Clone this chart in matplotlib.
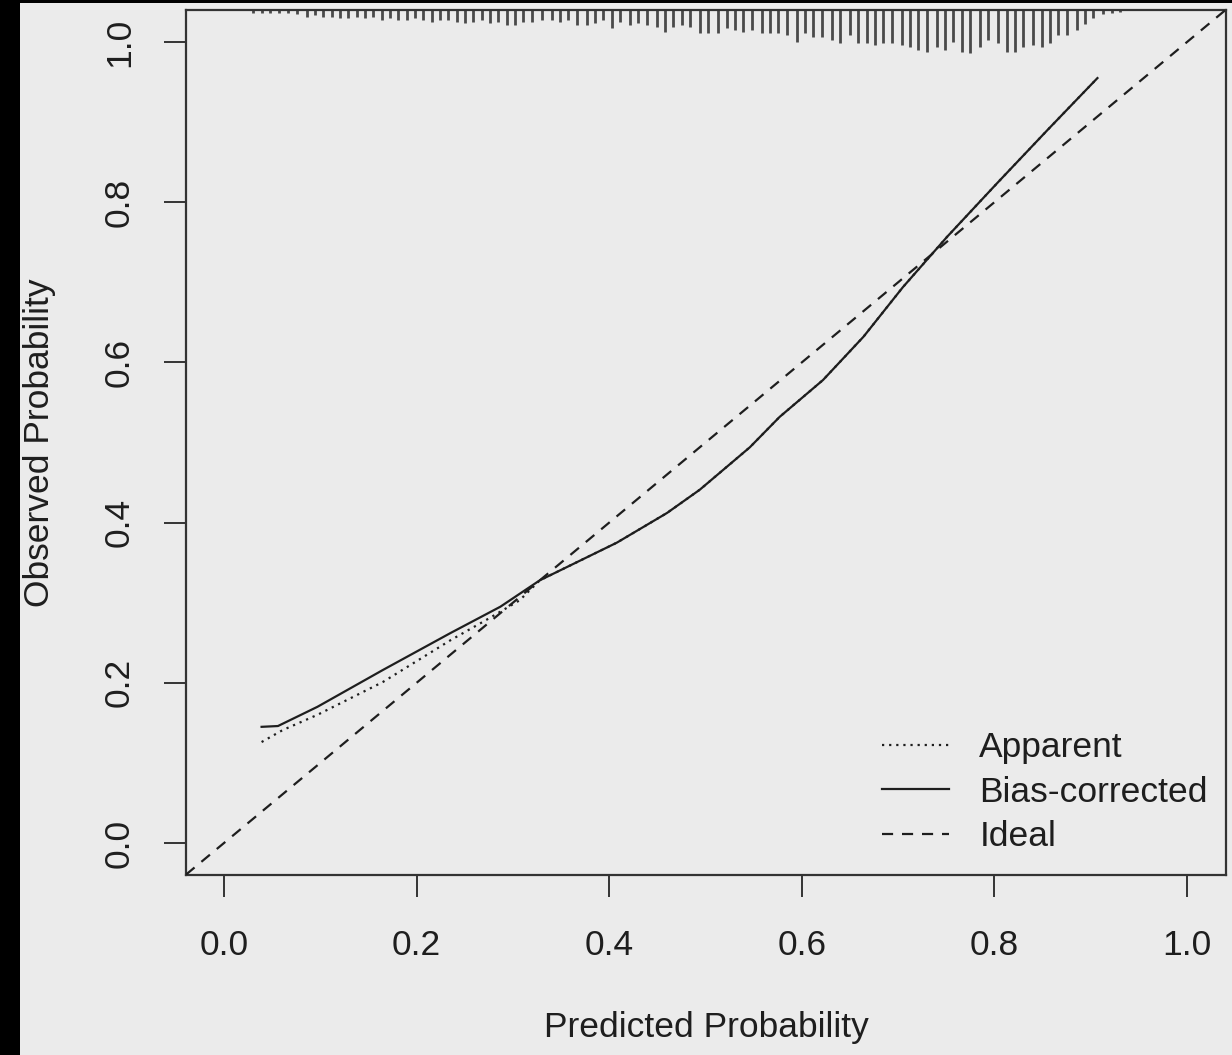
import matplotlib
matplotlib.use("Agg")
import matplotlib.pyplot as plt
from matplotlib.patches import Rectangle
from matplotlib.lines import Line2D

plt.rcParams['font.family'] = ['Liberation Sans', 'DejaVu Sans']

# ---- data ----
pred_bias = [0.039, 0.056, 0.097, 0.165, 0.235, 0.287, 0.328, 0.408, 0.460, 0.494,
             0.546, 0.577, 0.622, 0.664, 0.705, 0.751, 0.803, 0.855, 0.907]
obs_bias = [0.145, 0.146, 0.170, 0.216, 0.262, 0.295, 0.328, 0.375, 0.412, 0.441,
            0.494, 0.532, 0.578, 0.632, 0.694, 0.757, 0.824, 0.890, 0.955]

pred_app = [0.039, 0.061, 0.097, 0.165, 0.235, 0.276, 0.307, 0.328, 0.408, 0.460,
            0.494, 0.546, 0.577, 0.622, 0.664, 0.705, 0.751, 0.803, 0.855, 0.907]
obs_app = [0.126, 0.141, 0.160, 0.201, 0.253, 0.281, 0.303, 0.328, 0.375, 0.412,
           0.441, 0.494, 0.532, 0.578, 0.632, 0.694, 0.757, 0.824, 0.890, 0.955]

ideal = [0.0, 1.0]

# distribution of predicted probabilities (rug spikes on top)
rug_x = [0.030, 0.039, 0.048, 0.057, 0.066, 0.076, 0.086, 0.094, 0.103, 0.112,
         0.120, 0.129, 0.138, 0.146, 0.155, 0.164, 0.172, 0.181, 0.190, 0.198,
         0.207, 0.216, 0.224, 0.233, 0.242, 0.250, 0.259, 0.268, 0.276, 0.285,
         0.294, 0.302, 0.310, 0.320, 0.330, 0.341, 0.349, 0.357, 0.367, 0.377,
         0.385, 0.394, 0.403, 0.411, 0.422, 0.430, 0.439, 0.450, 0.458, 0.466,
         0.476, 0.484, 0.494, 0.503, 0.513, 0.522, 0.531, 0.539, 0.548, 0.559,
         0.567, 0.575, 0.585, 0.595, 0.603, 0.612, 0.621, 0.631, 0.640, 0.650,
         0.658, 0.668, 0.676, 0.684, 0.694, 0.704, 0.712, 0.721, 0.730, 0.740,
         0.749, 0.757, 0.766, 0.775, 0.785, 0.793, 0.804, 0.813, 0.821, 0.830,
         0.840, 0.849, 0.858, 0.866, 0.875, 0.886, 0.894, 0.902, 0.913, 0.922,
         0.930]
rug_n = [3, 3, 3, 3, 3, 4, 7, 5, 7, 7,
         8, 8, 7, 8, 7, 10, 8, 10, 10, 8,
         10, 12, 10, 10, 12, 13, 12, 10, 13, 12,
         15, 15, 12, 12, 10, 10, 12, 10, 15, 15,
         13, 10, 18, 12, 15, 13, 15, 17, 22, 17,
         15, 17, 23, 23, 23, 18, 20, 22, 20, 23,
         23, 23, 25, 32, 23, 27, 27, 30, 33, 25,
         33, 33, 35, 33, 33, 35, 37, 40, 42, 37,
         40, 32, 42, 43, 37, 30, 33, 42, 42, 37,
         35, 37, 33, 25, 25, 20, 14, 8, 4, 3,
         2]

xticks = [0.0, 0.2, 0.4, 0.6, 0.8, 1.0]
yticks = [0.0, 0.2, 0.4, 0.6, 0.8, 1.0]
tick_labels = ["0.0", "0.2", "0.4", "0.6", "0.8", "1.0"]

# ---- figure ----
W, H = 1232, 1055
bg = '#ebebeb'
ink = '#1e1e1e'
fs = 25.5
fig = plt.figure(figsize=(W / 100, H / 100), dpi=100, facecolor=bg)
ax = fig.add_axes([186 / W, 1 - 875 / H, 1040 / W, 865 / H], facecolor=bg)

xlim = (-0.0395, 1.0405)
ylim = (-0.04, 1.04)
ax.set_xlim(*xlim)
ax.set_ylim(*ylim)

# rug spikes from the top border
spike_scale = 0.00125
ax.vlines(rug_x, [ylim[1] - n * spike_scale for n in rug_n], ylim[1],
          color='#4a4a4a', lw=2.0, zorder=2)

ax.axline((ideal[0], ideal[0]), (ideal[1], ideal[1]), color=ink, lw=1.6,
          ls=(0, (5, 4)), zorder=3)
ax.plot(pred_app, obs_app, color=ink, lw=1.6, ls=(0, (1, 2.2)), zorder=4)
ax.plot(pred_bias, obs_bias, color=ink, lw=1.6, ls='-', zorder=5)

for s in ax.spines.values():
    s.set_color('#333333')
    s.set_linewidth(1.6)

ax.set_xticks(xticks)
ax.set_xticklabels(tick_labels)
ax.set_yticks(yticks)
ax.set_yticklabels(tick_labels)
ax.tick_params(axis='both', direction='out', length=16, width=1.4, color='#333333',
               labelsize=fs, labelcolor=ink)
ax.tick_params(axis='x', pad=23)
ax.tick_params(axis='y', pad=20, labelrotation=90)
for lab in ax.get_yticklabels():
    lab.set_va('center')

fig.text(706 / W, 1 - 1027 / H, 'Predicted Probability', ha='center', va='center',
         fontsize=fs, color=ink)
fig.text(40 / W, 1 - 443 / H, 'Observed Probability', ha='center', va='center',
         rotation=90, fontsize=fs, color=ink)

handles = [Line2D([], [], color=ink, lw=1.6, ls=(0, (1, 2.2))),
           Line2D([], [], color=ink, lw=1.6, ls='-'),
           Line2D([], [], color=ink, lw=1.6, ls=(0, (5, 4)))]
ax.legend(handles, ['Apparent', 'Bias-corrected', 'Ideal'], loc='upper left',
          bbox_to_anchor=(882 / W, 1 - 731 / H), bbox_transform=fig.transFigure,
          frameon=False, fontsize=fs, handlelength=1.9, handletextpad=0.85,
          labelspacing=0.33, borderpad=0, borderaxespad=0, labelcolor=ink)

# screenshot frame (black strips)
fig.patches.append(Rectangle((0, 0), 20 / W, 1, transform=fig.transFigure,
                             facecolor='black', edgecolor='none', zorder=10))
fig.patches.append(Rectangle((0, 1 - 3 / H), 1, 3 / H, transform=fig.transFigure,
                             facecolor='black', edgecolor='none', zorder=10))

fig.savefig('out.png', dpi=100, facecolor=bg)
